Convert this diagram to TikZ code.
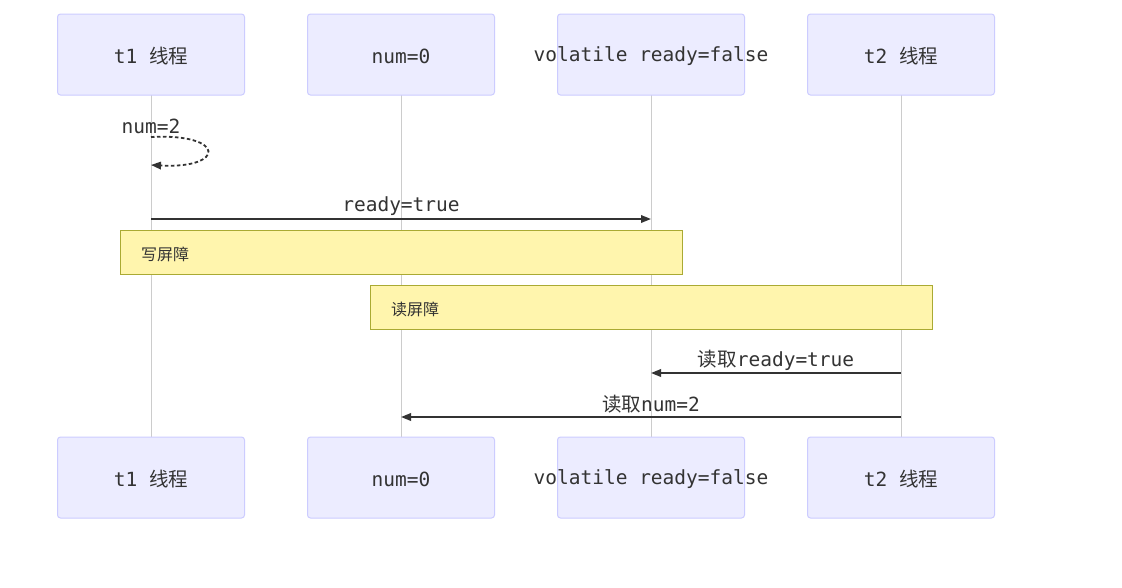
\documentclass[tikz,border=0pt]{standalone}
\usepackage{fontspec}
\setmonofont{DejaVu Sans Mono}
\newfontfamily\cjk{Noto Sans CJK SC}
\usetikzlibrary{arrows.meta}
\definecolor{actorfill}{HTML}{ECECFF}
\definecolor{actorline}{HTML}{CCCCFF}
\definecolor{notefill}{HTML}{FFF5AD}
\definecolor{noteline}{HTML}{AAAA33}
\definecolor{lifeline}{HTML}{CCCCCC}
\definecolor{ink}{HTML}{333333}
\tikzset{
  x=1pt, y=-1pt,
  actor/.style={draw=actorline, fill=actorfill, line width=1pt, rounded corners=3pt,
    minimum width=187pt, minimum height=81pt, inner sep=0pt},
  actortext/.style={font=\fontsize{19.5}{22}\selectfont\ttfamily, text=ink, inner sep=0pt, yshift=-2pt},
  life/.style={draw=lifeline, line width=1pt},
  tip/.style={-{Triangle[length=10pt,width=7.5pt]}},
  msg/.style={draw=ink, line width=1.8pt, tip},
  msglabel/.style={font=\fontsize{19.5}{22}\selectfont\ttfamily, text=ink, inner sep=0pt, yshift=-2pt},
  note/.style={draw=noteline, fill=notefill, line width=1pt, inner sep=0pt,
    minimum width=562pt, minimum height=44pt},
  notetext/.style={font=\cjk\fontsize{16}{18}\selectfont, text=ink, anchor=west, inner sep=0pt},
}
\begin{document}
\begin{tikzpicture}
\useasboundingbox (0,0) rectangle (1122,587);
\fill[white] (0,0) rectangle (1122,587);

% participant columns
\foreach \n/\x in {a/151, b/401, c/651, d/901} {
  \coordinate (\n top) at (\x,95);
  \coordinate (\n bot) at (\x,437);
  \draw[life] (\n top) -- (\n bot);
}

% participant boxes, top and bottom (labels may run past the box edge)
\foreach \n/\x/\t in {a/151/{t1 {\cjk 线程}}, b/401/{num=0}, c/651/{volatile ready=false}, d/901/{t2 {\cjk 线程}}} {
  \node[actor] (\n box1) at (\x,54.5) {};
  \node[actortext] (\n lab1) at (\n box1) {\t};
  \node[actor] (\n box2) at (\x,477.5) {};
  \node[actortext] (\n lab2) at (\n box2) {\t};
}

% self message on t1
\coordinate (s1) at (151,137);
\coordinate (s2) at (151,165);
\node[msglabel] (selfl) at (151,124) {num=2};
\draw[ink, line width=1.8pt, dash pattern=on 3.5pt off 2.5pt, tip]
  (s1) .. controls (226,133) and (226,169) .. (s2);

% ready=true
\coordinate (m1a) at (151,219);
\coordinate (m1b) at (651,219);
\draw[msg] (m1a) -- (m1b);
\node[msglabel] (m1l) at (401,204) {ready=true};

% barriers
\node[note] (n1) at (401,252) {};
\node[notetext] (n1t) at (141,254) {写屏障};
\node[note] (n2) at (651,307) {};
\node[notetext] (n2t) at (391,309) {读屏障};

% reads from t2
\coordinate (m2a) at (901,373);
\coordinate (m2b) at (651,373);
\draw[msg] (m2a) -- (m2b);
\node[msglabel] (m2l) at (776,358) {{\cjk 读取}ready=true};

\coordinate (m3a) at (901,417);
\coordinate (m3b) at (401,417);
\draw[msg] (m3a) -- (m3b);
\node[msglabel] (m3l) at (651,402) {{\cjk 读取}num=2};
\end{tikzpicture}
\end{document}
